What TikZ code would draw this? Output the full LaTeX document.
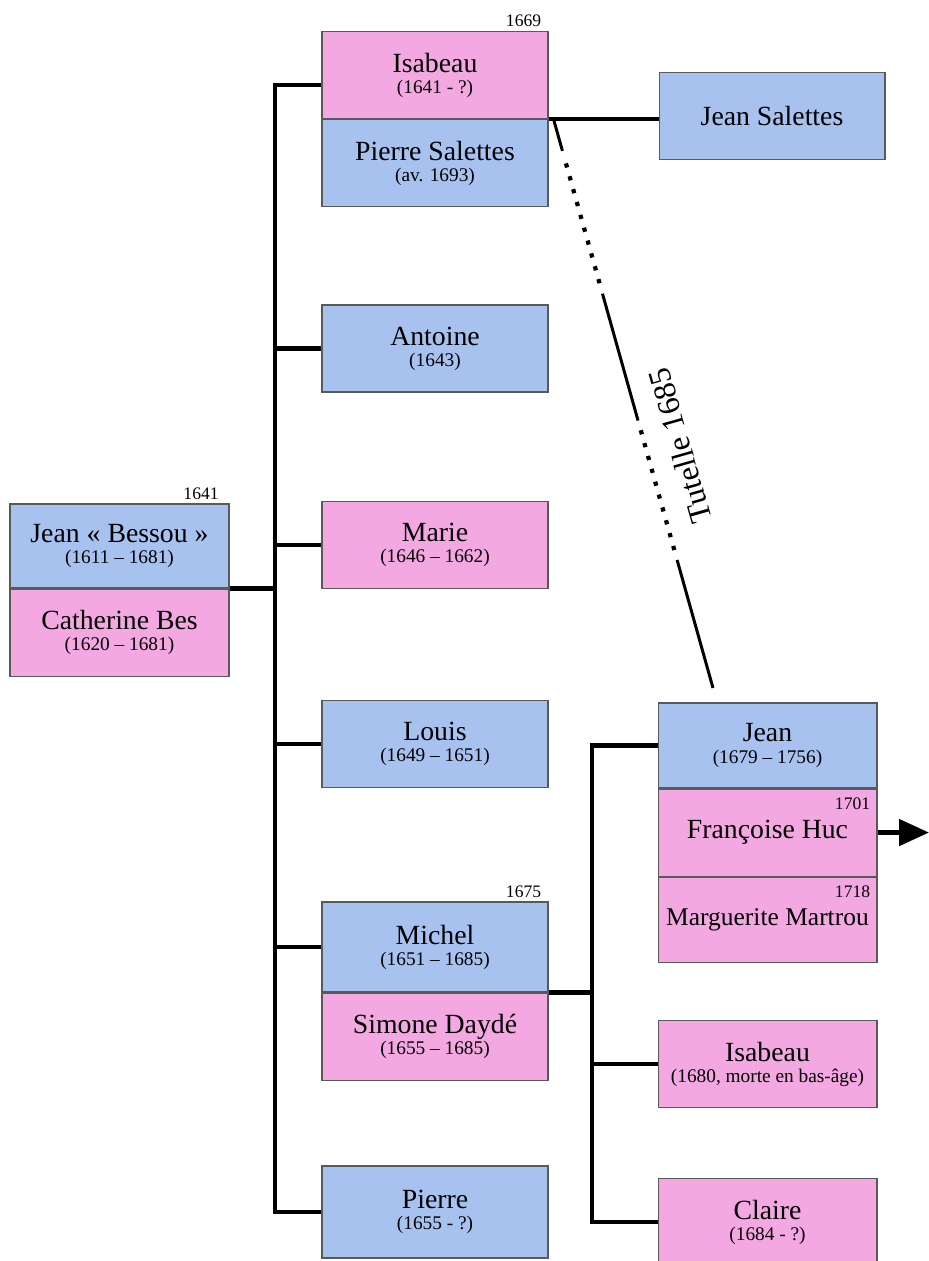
\documentclass[tikz,border=0pt]{standalone}
\usepackage{fontspec}
\setmainfont{Liberation Serif}
\usetikzlibrary{positioning,calc,arrows.meta}
\definecolor{bleu}{RGB}{168,194,240}
\definecolor{rose}{RGB}{244,168,226}
\newcommand{\periode}[1]{\\{\fontsize{11}{12}\selectfont #1}}
\tikzset{
	personne/.style={draw=black!65, line width=0.6pt, rectangle, align=center, inner sep=0pt,
		minimum width=4.52cm, minimum height=1.74cm, font=\fontsize{15.8}{12}\selectfont},
	homme/.style={personne, fill=bleu},
	femme/.style={personne, fill=rose},
	annee/.style={font=\fontsize{10}{12}\selectfont, inner sep=1pt},
	lien/.style={line width=2.8pt},
	tutelle/.style={line width=1.7pt},
	pointille/.style={line width=2.4pt, dash pattern=on 2.4pt off 5.2pt},
}
\begin{document}
\begin{tikzpicture}[x=0.02cm, y=-0.02cm]
				\useasboundingbox (0,0) rectangle (929,1261);
				%Troncs
				\coordinate (tronc) at (275,0);
				\coordinate (tronc2) at (592,0);
				\coordinate (fleche) at (929,0);
				%Parents
				\node[homme, minimum width=4.38cm, minimum height=1.68cm,
					label={[annee, anchor=south east, xshift=-5pt, yshift=1pt]north east:1641}]
					(jeanB) at (119.5,546) {Jean « Bessou »\periode{(1611 – 1681)}};
				\node[femme, minimum width=4.38cm, below=0pt of jeanB] (catherine) {Catherine Bes\periode{(1620 – 1681)}};
				%Enfants
				\node[femme, label={[annee, anchor=south east, xshift=-3pt, yshift=1pt]north east:1669}]
					(isabeau) at (435,75) {Isabeau\periode{(1641 - ?)}};
				\node[homme, below=0pt of isabeau] (pierreS) {Pierre Salettes\periode{(av. 1693)}};
				\node[homme] (antoine) at (435,348.5) {Antoine\periode{(1643)}};
				\node[femme] (marie) at (435,545) {Marie\periode{(1646 – 1662)}};
				\node[homme] (louis) at (435,744) {Louis\periode{(1649 – 1651)}};
				\node[homme, minimum height=1.8cm, label={[annee, anchor=south east, xshift=-3pt, yshift=1pt]north east:1675}]
					(michel) at (435,947) {Michel\periode{(1651 – 1685)}};
				\node[femme, below=0pt of michel] (simone) {Simone Daydé\periode{(1655 – 1685)}};
				\node[homme, minimum height=1.84cm] (pierre) at (435,1212) {Pierre\periode{(1655 - ?)}};
				%Petits-enfants
				\node[homme] (jeanS) at (772,116) {Jean Salettes};
				\node[homme, minimum width=4.38cm, minimum height=1.7cm] (jean) at (767.5,745.5) {Jean\periode{(1679 – 1756)}};
				\node[femme, minimum width=4.38cm, below=0pt of jean,
					label={[annee, anchor=north east, xshift=-3pt, yshift=-4pt]north east:1701}]
					(francoise) {Françoise Huc};
				\node[femme, minimum width=4.38cm, minimum height=1.7cm, below=0pt of francoise,
					font=\fontsize{14.5}{12}\selectfont,
					label={[annee, anchor=north east, xshift=-3pt, yshift=-4pt]north east:1718}]
					(marguerite) {Marguerite Martrou};
				\node[femme, minimum width=4.38cm] (isabeauB) at (767.5,1064) {Isabeau\periode{(1680, morte en bas-âge)}};
				\node[femme, minimum width=4.38cm] (claire) at (767.5,1222) {Claire\periode{(1684 - ?)}};
				%Liens
				\draw[lien] (jeanB.south east) -- (tronc |- jeanB.south east);
				\draw[lien] ([yshift=-0.2cm]isabeau.west) -| (tronc |- pierre.west) -- (pierre.west);
				\draw[lien] (tronc |- antoine.west) -- (antoine.west);
				\draw[lien] (tronc |- marie.west) -- (marie.west);
				\draw[lien] (tronc |- louis.west) -- (louis.west);
				\draw[lien] (tronc |- michel.west) -- (michel.west);
				\draw[lien] (isabeau.south east) -- (isabeau.south east -| jeanS.west);
				\draw[lien] (michel.south east) -- (tronc2 |- michel.south east);
				\draw[lien] (jean.west) -| (tronc2 |- claire.west) -- (claire.west);
				\draw[lien] (tronc2 |- isabeauB.west) -- (isabeauB.west);
				\draw[lien, -{Triangle[length=0.6cm, width=0.52cm]}] (francoise.east) -- (francoise.east -| fleche);
				%Tutelle
				\coordinate (tutA) at ($(isabeau.south east)+(5,0)$);
				\coordinate (tutB) at (713,688);
				\draw[tutelle] (tutA) -- ($(tutA)!0.056!(tutB)$);
				\draw[pointille] ($(tutA)!0.078!(tutB)$) -- ($(tutA)!0.29!(tutB)$);
				\draw[tutelle] ($(tutA)!0.307!(tutB)$) -- ($(tutA)!0.53!(tutB)$);
				\draw[pointille] ($(tutA)!0.547!(tutB)$) -- ($(tutA)!0.758!(tutB)$);
				\draw[tutelle] ($(tutA)!0.775!(tutB)$) -- (tutB);
				\node[rotate=105.8, font=\fontsize{18}{20}\selectfont] (tut) at (680,446) {Tutelle 1685};
\end{tikzpicture}
\end{document}
